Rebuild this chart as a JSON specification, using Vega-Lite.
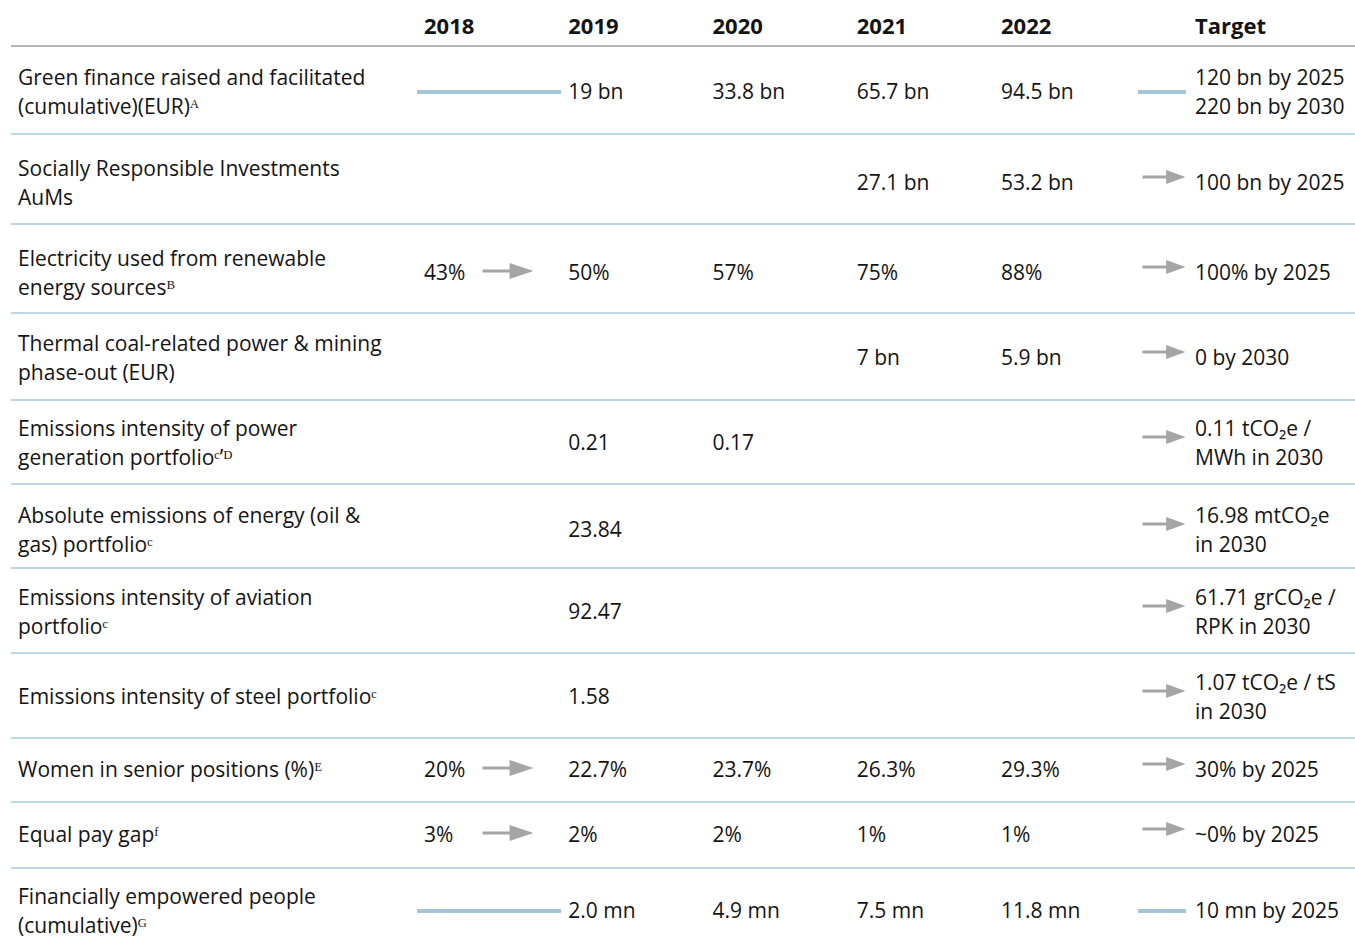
{
  "$schema": "https://vega.github.io/schema/vega-lite/v6.json",
  "width": 1355,
  "height": 947,
  "autosize": {"type": "fit", "contains": "padding"},
  "padding": 0,
  "background": "#ffffff",
  "config": {"view": {"stroke": null}, "text": {"font": "Open Sans", "fontSize": 21, "color": "#141414"}},
  "datasets": {
    "header": [
      {"row": 0, "col": 1, "text": "2018"},
      {"row": 0, "col": 2, "text": "2019"},
      {"row": 0, "col": 3, "text": "2020"},
      {"row": 0, "col": 4, "text": "2021"},
      {"row": 0, "col": 5, "text": "2022"},
      {"row": 0, "col": 6, "text": "Target"}
    ],
    "cells": [
      {"row": 1, "col": 0, "text": "Green finance raised and facilitated\n(cumulative)(EUR)ᴬ"},
      {"row": 1, "col": 2, "text": "19 bn"},
      {"row": 1, "col": 3, "text": "33.8 bn"},
      {"row": 1, "col": 4, "text": "65.7 bn"},
      {"row": 1, "col": 5, "text": "94.5 bn"},
      {"row": 1, "col": 6, "text": "120 bn by 2025\n220 bn by 2030"},
      {"row": 2, "col": 0, "text": "Socially Responsible Investments\nAuMs"},
      {"row": 2, "col": 4, "text": "27.1 bn"},
      {"row": 2, "col": 5, "text": "53.2 bn"},
      {"row": 2, "col": 6, "text": "100 bn by 2025"},
      {"row": 3, "col": 0, "text": "Electricity used from renewable\nenergy sourcesᴮ"},
      {"row": 3, "col": 1, "text": "43%"},
      {"row": 3, "col": 2, "text": "50%"},
      {"row": 3, "col": 3, "text": "57%"},
      {"row": 3, "col": 4, "text": "75%"},
      {"row": 3, "col": 5, "text": "88%"},
      {"row": 3, "col": 6, "text": "100% by 2025"},
      {"row": 4, "col": 0, "text": "Thermal coal-related power & mining\nphase-out (EUR)"},
      {"row": 4, "col": 4, "text": "7 bn"},
      {"row": 4, "col": 5, "text": "5.9 bn"},
      {"row": 4, "col": 6, "text": "0 by 2030"},
      {"row": 5, "col": 0, "text": "Emissions intensity of power\ngeneration portfolioᶜ’ᴰ"},
      {"row": 5, "col": 2, "text": "0.21"},
      {"row": 5, "col": 3, "text": "0.17"},
      {"row": 5, "col": 6, "text": "0.11 tCO₂e /\nMWh in 2030"},
      {"row": 6, "col": 0, "text": "Absolute emissions of energy (oil &\ngas) portfolioᶜ"},
      {"row": 6, "col": 2, "text": "23.84"},
      {"row": 6, "col": 6, "text": "16.98 mtCO₂e\nin 2030"},
      {"row": 7, "col": 0, "text": "Emissions intensity of aviation\nportfolioᶜ"},
      {"row": 7, "col": 2, "text": "92.47"},
      {"row": 7, "col": 6, "text": "61.71 grCO₂e /\nRPK in 2030"},
      {"row": 8, "col": 0, "text": "Emissions intensity of steel portfolioᶜ"},
      {"row": 8, "col": 2, "text": "1.58"},
      {"row": 8, "col": 6, "text": "1.07 tCO₂e / tS\nin 2030"},
      {"row": 9, "col": 0, "text": "Women in senior positions (%)ᴱ"},
      {"row": 9, "col": 1, "text": "20%"},
      {"row": 9, "col": 2, "text": "22.7%"},
      {"row": 9, "col": 3, "text": "23.7%"},
      {"row": 9, "col": 4, "text": "26.3%"},
      {"row": 9, "col": 5, "text": "29.3%"},
      {"row": 9, "col": 6, "text": "30% by 2025"},
      {"row": 10, "col": 0, "text": "Equal pay gapᶠ"},
      {"row": 10, "col": 1, "text": "3%"},
      {"row": 10, "col": 2, "text": "2%"},
      {"row": 10, "col": 3, "text": "2%"},
      {"row": 10, "col": 4, "text": "1%"},
      {"row": 10, "col": 5, "text": "1%"},
      {"row": 10, "col": 6, "text": "~0% by 2025"},
      {"row": 11, "col": 0, "text": "Financially empowered people\n(cumulative)ᴳ"},
      {"row": 11, "col": 2, "text": "2.0 mn"},
      {"row": 11, "col": 3, "text": "4.9 mn"},
      {"row": 11, "col": 4, "text": "7.5 mn"},
      {"row": 11, "col": 5, "text": "11.8 mn"},
      {"row": 11, "col": 6, "text": "10 mn by 2025"}
    ],
    "markers": [
      {"row": 1, "col": 1, "kind": "line"},
      {"row": 1, "col": 6, "kind": "line"},
      {"row": 2, "col": 6, "kind": "arrow"},
      {"row": 3, "col": 1, "kind": "arrow"},
      {"row": 3, "col": 6, "kind": "arrow"},
      {"row": 4, "col": 6, "kind": "arrow"},
      {"row": 5, "col": 6, "kind": "arrow"},
      {"row": 6, "col": 6, "kind": "arrow"},
      {"row": 7, "col": 6, "kind": "arrow"},
      {"row": 8, "col": 6, "kind": "arrow"},
      {"row": 9, "col": 1, "kind": "arrow"},
      {"row": 9, "col": 6, "kind": "arrow"},
      {"row": 10, "col": 1, "kind": "arrow"},
      {"row": 10, "col": 6, "kind": "arrow"},
      {"row": 11, "col": 1, "kind": "line"},
      {"row": 11, "col": 6, "kind": "line"}
    ],
    "separators": [
      {"row": 0.5, "kind": "header"},
      {"row": 1.5, "kind": "row"},
      {"row": 2.5, "kind": "row"},
      {"row": 3.5, "kind": "row"},
      {"row": 4.5, "kind": "row"},
      {"row": 5.5, "kind": "row"},
      {"row": 6.5, "kind": "row"},
      {"row": 7.5, "kind": "row"},
      {"row": 8.5, "kind": "row"},
      {"row": 9.5, "kind": "row"},
      {"row": 10.5, "kind": "row"}
    ]
  },
  "encoding": {
    "y": {
      "field": "row",
      "type": "quantitative",
      "axis": null,
      "scale": {
        "zero": false,
        "nice": false,
        "domain": [0, 0.5, 1, 1.5, 2, 2.5, 3, 3.5, 4, 4.5, 5, 5.5, 6, 6.5, 7, 7.5, 8, 8.5, 9, 9.5, 10, 10.5, 11],
        "range": [27, 46, 91, 134, 182, 224, 272, 313, 357, 400, 442, 484, 529, 568, 611, 653, 696, 738, 769, 802, 834, 868, 910]
      }
    }
  },
  "layer": [
    {
      "data": {"name": "separators"},
      "mark": {"type": "rule", "strokeWidth": 1.5, "xOffset": -7, "x2Offset": 160},
      "encoding": {
        "x": {"datum": 0, "type": "quantitative", "axis": null, "scale": {"zero": false, "nice": false, "domain": [0, 1, 5, 6], "range": [18, 424, 1001, 1195]}},
        "x2": {"datum": 6},
        "color": {"field": "kind", "type": "nominal", "legend": null, "scale": {"domain": ["header", "row"], "range": ["#9b9b9b", "#a6cbdf"]}}
      }
    },
    {
      "data": {"name": "markers"},
      "transform": [{"filter": "datum.kind === 'line' && datum.col === 1"}],
      "mark": {"type": "rule", "strokeWidth": 4, "color": "#a2c6d8", "xOffset": -7, "x2Offset": 137, "yOffset": 1},
      "encoding": {
        "x": {"field": "col", "type": "quantitative"},
        "x2": {"field": "col"}
      }
    },
    {
      "data": {"name": "markers"},
      "transform": [{"filter": "datum.kind === 'line' && datum.col === 6"}],
      "mark": {"type": "rule", "strokeWidth": 4, "color": "#a2c6d8", "xOffset": -57, "x2Offset": -9, "yOffset": 1},
      "encoding": {
        "x": {"field": "col", "type": "quantitative"},
        "x2": {"field": "col"}
      }
    },
    {
      "data": {"name": "markers"},
      "transform": [{"filter": "datum.kind === 'arrow' && datum.col === 1"}],
      "mark": {"type": "point", "filled": true, "color": "#a5a5a5", "opacity": 1, "size": 2601, "xOffset": 84, "yOffset": -1,
        "shape": "M-1,-0.06L0.06,-0.06L0.06,-0.31L1,0L0.06,0.31L0.06,0.06L-1,0.06Z"},
      "encoding": {
        "x": {"field": "col", "type": "quantitative"}
      }
    },
    {
      "data": {"name": "markers"},
      "transform": [{"filter": "datum.kind === 'arrow' && datum.col === 6"}],
      "mark": {"type": "point", "filled": true, "color": "#a5a5a5", "opacity": 1, "size": 1849, "xOffset": -31, "yOffset": -5,
        "shape": "M-1,-0.07L0.1,-0.07L0.1,-0.33L1,0L0.1,0.33L0.1,0.07L-1,0.07Z"},
      "encoding": {
        "x": {"field": "col", "type": "quantitative"}
      }
    },
    {
      "data": {"name": "header"},
      "mark": {"type": "text", "align": "left", "baseline": "middle", "fontWeight": "bold", "fontSize": 22},
      "encoding": {
        "x": {"field": "col", "type": "quantitative"},
        "text": {"field": "text"}
      }
    },
    {
      "data": {"name": "cells"},
      "transform": [{"filter": "indexof(datum.text, '\\n') < 0"}],
      "mark": {"type": "text", "align": "left", "baseline": "middle", "dy": 2},
      "encoding": {
        "x": {"field": "col", "type": "quantitative"},
        "text": {"field": "text"}
      }
    },
    {
      "data": {"name": "cells"},
      "transform": [{"filter": "indexof(datum.text, '\\n') >= 0"}],
      "mark": {"type": "text", "align": "left", "baseline": "middle", "lineBreak": "\n", "lineHeight": 29, "dy": -12.5},
      "encoding": {
        "x": {"field": "col", "type": "quantitative"},
        "text": {"field": "text"}
      }
    }
  ]
}
